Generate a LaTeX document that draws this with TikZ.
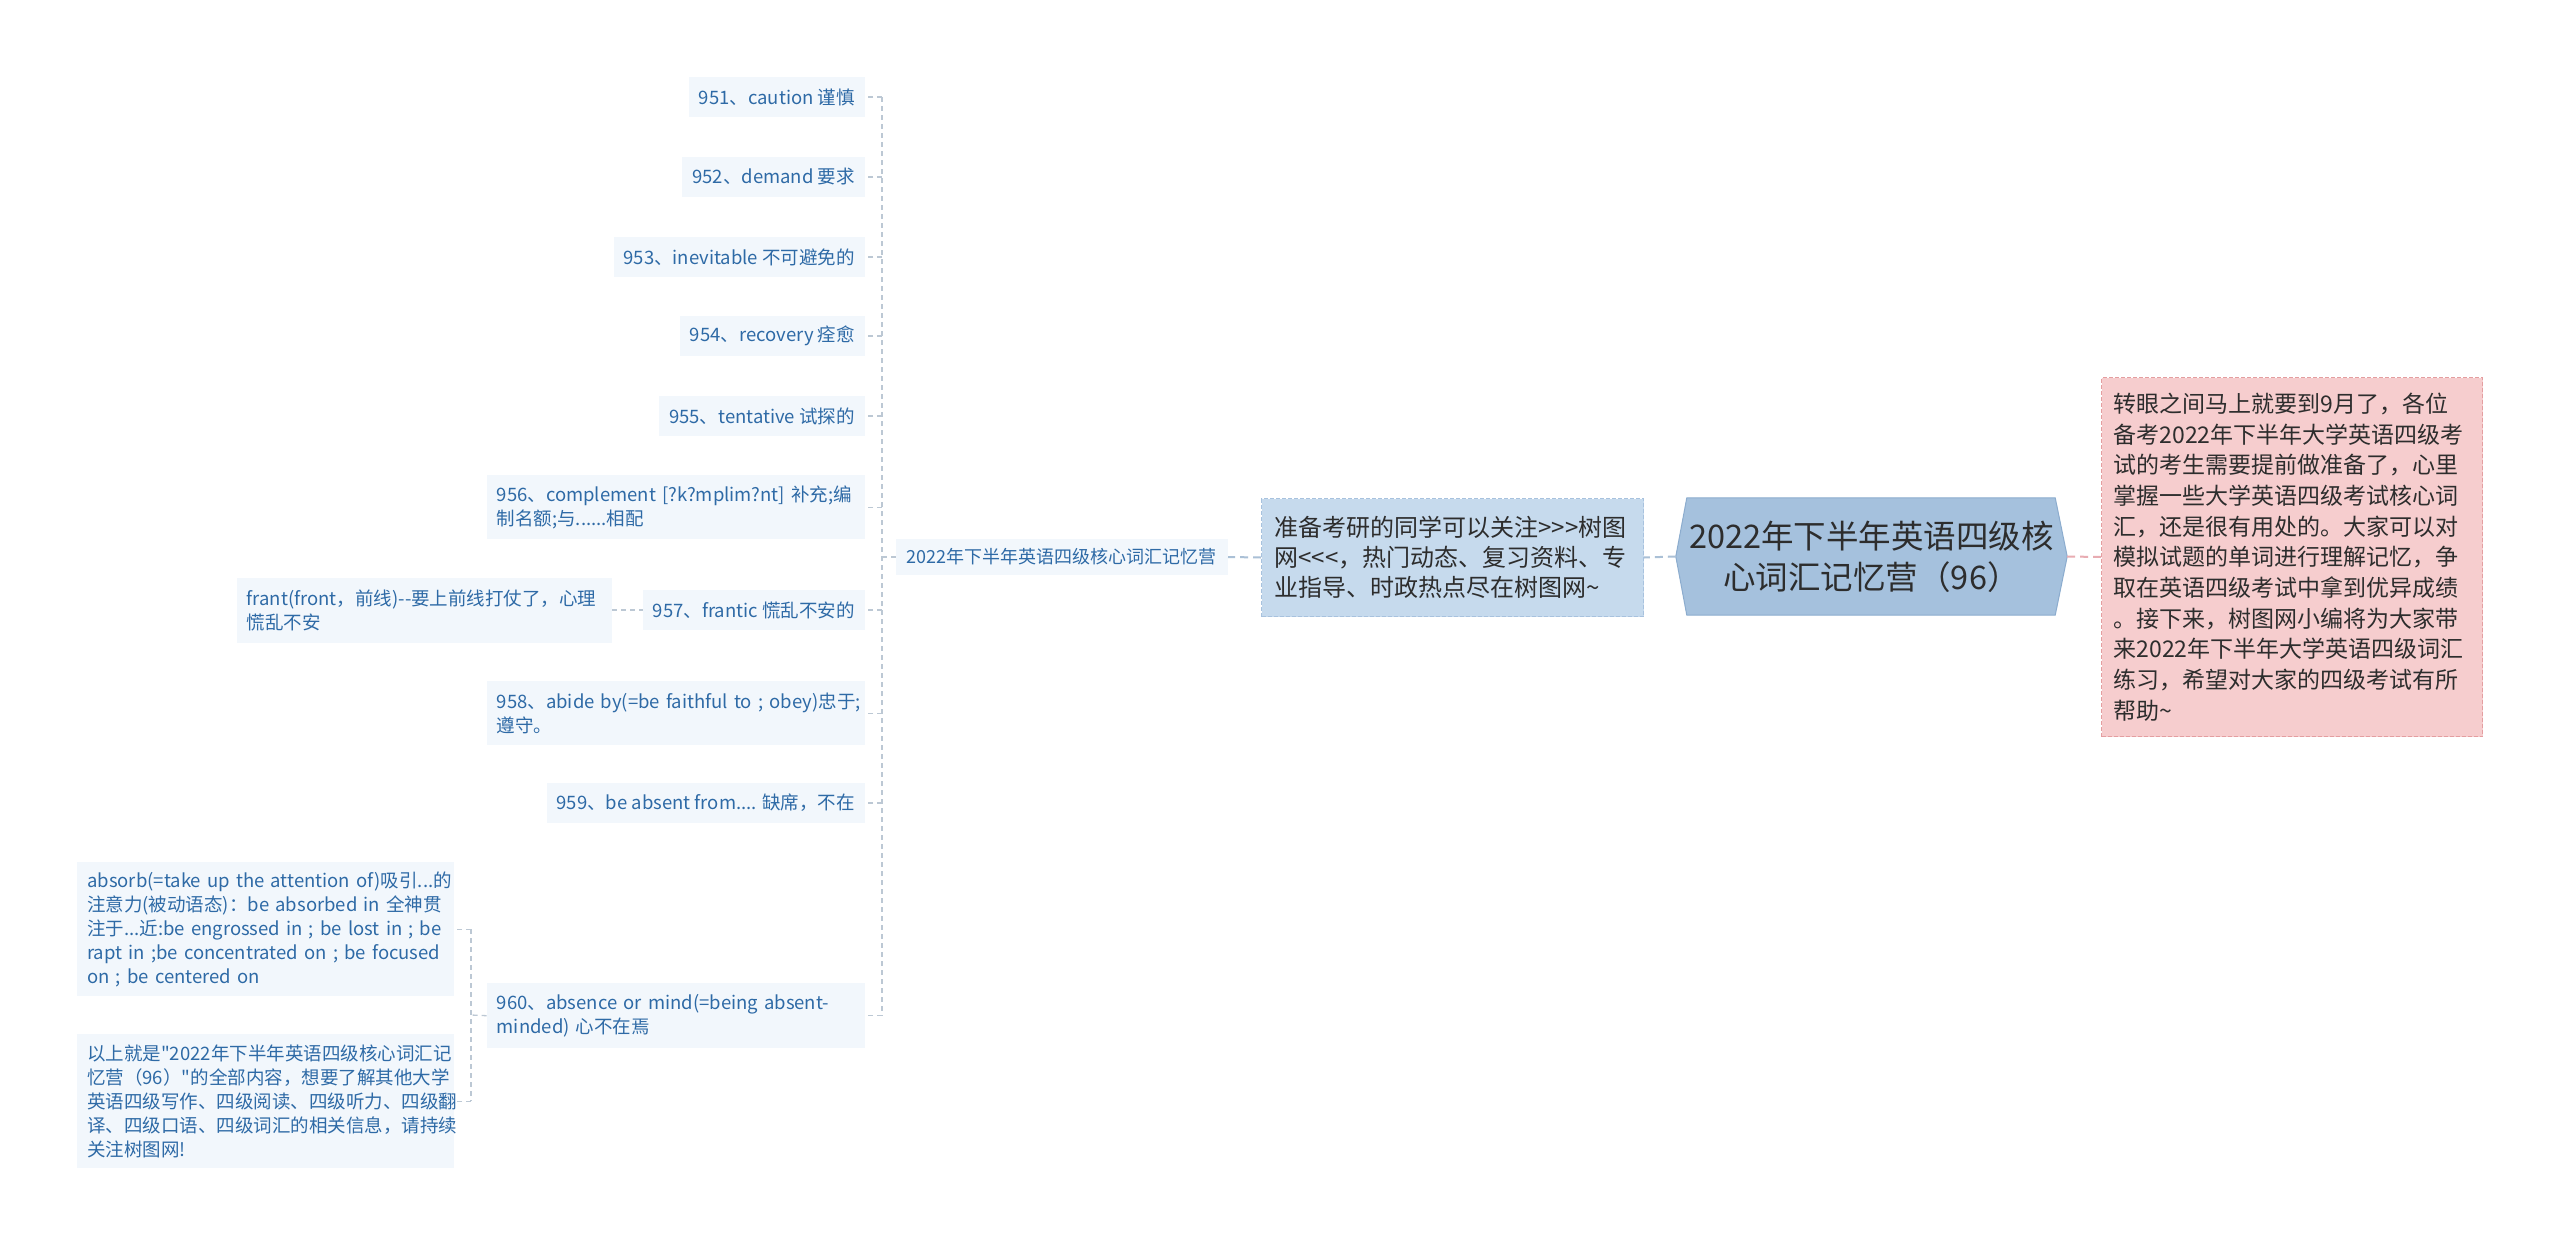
\documentclass[tikz,border=0pt]{standalone}
\usepackage{fontspec}
\newfontfamily\cjkfont{Noto Sans CJK SC}
\usetikzlibrary{calc,backgrounds}
\definecolor{leaftext}{RGB}{46,106,166}
\definecolor{leaffill}{RGB}{242,247,252}
\definecolor{linkgray}{RGB}{188,200,212}
\definecolor{toplinkc}{RGB}{170,192,214}
\definecolor{mainfill}{RGB}{165,193,221}
\definecolor{mainline}{RGB}{140,172,206}
\definecolor{zbfill}{RGB}{198,218,237}
\definecolor{zbline}{RGB}{168,194,222}
\definecolor{pinkfill}{RGB}{246,205,206}
\definecolor{pinkline}{RGB}{228,158,160}
\definecolor{pinklinkc}{RGB}{232,172,178}
\definecolor{darktext}{RGB}{45,45,45}
\begin{document}
\begin{tikzpicture}[x=1pt,y=-1pt,
  leaf/.style={fill=leaffill, text=leaftext, inner xsep=10pt, inner ysep=0pt,
    minimum height=40pt, font=\cjkfont\fontsize{18.5}{24}\selectfont},
  leafm/.style={leaf, align=left, text width=#1},
  link/.style={draw=linkgray, line width=1.3pt, dash pattern=on 5pt off 4pt},
  toplink/.style={draw=toplinkc, line width=2pt, dash pattern=on 8pt off 5pt},
  pinklink/.style={draw=pinklinkc, line width=2pt, dash pattern=on 8pt off 5pt},
  mainnode/.style={minimum width=391pt, minimum height=117pt, align=center,
    inner sep=0pt, text=darktext, font=\cjkfont\fontsize{32.5}{41}\selectfont},
  zbbox/.style={fill=zbfill, draw=zbline, line width=1pt, dash pattern=on 4pt off 2pt,
    text=darktext, align=left, text width=356pt, inner xsep=13pt, inner ysep=0pt,
    minimum height=118pt, font=\cjkfont\fontsize{24}{30}\selectfont},
  pinkbox/.style={fill=pinkfill, draw=pinkline, line width=1pt, dash pattern=on 4pt off 2pt,
    text=darktext, align=left, text width=357pt, inner xsep=12pt, inner ysep=0pt,
    minimum height=359pt, font=\cjkfont\fontsize{23}{30.7}\selectfont}
]
\useasboundingbox (0,0) rectangle (2560,1245);

% main topic
\node[mainnode] (main) at (1871.5,556.5) {2022年下半年英语四级核\\心词汇记忆营（96）};
\begin{scope}[on background layer]
\fill[white] (0,0) rectangle (2560,1245);
\filldraw[fill=mainfill, draw=mainline, line width=1pt]
  ($(main.north west)+(11,0)$) -- ($(main.north east)+(-12,0)$) -- (main.east)
  -- ($(main.south east)+(-12,0)$) -- ($(main.south west)+(11,0)$) -- (main.west) -- cycle;
\end{scope}

% right pink note
\node[pinkbox, anchor=north west] (pink) at (2101,377) {\mbox{转眼之间马上就要到9月了，各位}\\\mbox{备考2022年下半年大学英语四级考}\\\mbox{试的考生需要提前做准备了，心里}\\\mbox{掌握一些大学英语四级考试核心词}\\\mbox{汇，还是很有用处的。大家可以对}\\\mbox{模拟试题的单词进行理解记忆，争}\\\mbox{取在英语四级考试中拿到优异成绩}\\\mbox{。接下来，树图网小编将为大家带}\\\mbox{来2022年下半年大学英语四级词汇}\\\mbox{练习，希望对大家的四级考试有所}\\\mbox{帮助\char`\~}};

% left first-level
\node[zbbox, anchor=north west] (zb) at (1261,498) {\mbox{准备考研的同学可以关注>>>树图}\\\mbox{网<<<，热门动态、复习资料、专}\\\mbox{业指导、时政热点尽在树图网\char`\~}};

\node[leaf, font=\cjkfont\fontsize{18}{24}\selectfont, minimum height=36pt, inner xsep=11pt, anchor=east] (mid) at (1228,557) {2022年下半年英语四级核心词汇记忆营};

% leaves
\node[leaf, anchor=east] (n951) at (865,97) {951、caution 谨慎};
\node[leaf, anchor=east] (n952) at (865,177) {952、demand 要求};
\node[leaf, anchor=east] (n953) at (865,257) {953、inevitable 不可避免的};
\node[leaf, anchor=east] (n954) at (865,336) {954、recovery 痊愈};
\node[leaf, anchor=east] (n955) at (865,416) {955、tentative 试探的};
\node[leafm=358pt, minimum height=64pt, anchor=north east] (n956) at (865,475) {\mbox{956、complement [?k?mplim?nt] 补充;编}\\\mbox{制名额;与......相配}};
\node[leaf, anchor=east] (n957) at (865,610) {957、frantic 慌乱不安的};
\node[leafm=358pt, minimum height=64pt, anchor=north east] (n958) at (865,681) {\mbox{958、abide by(=be faithful to ; obey)忠于;}\\\mbox{遵守。}};
\node[leaf, anchor=east] (n959) at (865,803) {959、be absent from.... 缺席，不在};
\node[leafm=358pt, minimum height=65pt, anchor=north east] (n960) at (865,983) {\mbox{960、absence or mind(=being absent-}\\\mbox{minded) 心不在焉}};

\node[leafm=355pt, minimum height=65pt, anchor=east] (frant) at (612,610) {\mbox{frant(front，前线)--要上前线打仗了，心理}\\\mbox{慌乱不安}};

\node[leafm=357pt, minimum height=134pt, anchor=north west] (absorb) at (77,862) {\mbox{absorb(=take up the attention of)吸引...的}\\\mbox{注意力(被动语态)：be absorbed in 全神贯}\\\mbox{注于...近:be engrossed in ; be lost in ; be}\\\mbox{rapt in ;be concentrated on ; be focused}\\\mbox{on ; be centered on}};
\node[leafm=357pt, minimum height=134pt, anchor=north west] (yishang) at (77,1034) {\mbox{以上就是"2022年下半年英语四级核心词汇记}\\\mbox{忆营（96）"的全部内容，想要了解其他大学}\\\mbox{英语四级写作、四级阅读、四级听力、四级翻}\\\mbox{译、四级口语、四级词汇的相关信息，请持续}\\\mbox{关注树图网!}};

% connectors
\draw[pinklink] (main.east) -- (pink.west);
\draw[toplink] (main.west) -- (zb.east);
\draw[toplink] (zb.west) -- (mid.east);

\coordinate (trunk) at (882,557);
\draw[link] (mid.west) -- (trunk);
\draw[link] (trunk |- n951.east) -- (trunk |- n960.east);
\foreach \n in {n951,n952,n953,n954,n955,n956,n957,n958,n959,n960}
  \draw[link] (trunk |- \n.east) -- (\n.east);
\draw[link] (frant.east) -- (n957.west);

\coordinate (t2) at (471,1015);
\draw[link] (n960.west) -- (t2);
\draw[link] (t2 |- absorb.east) -- (t2 |- yishang.east);
\draw[link] (t2 |- absorb.east) -- (absorb.east);
\draw[link] (t2 |- yishang.east) -- (yishang.east);
\end{tikzpicture}
\end{document}
